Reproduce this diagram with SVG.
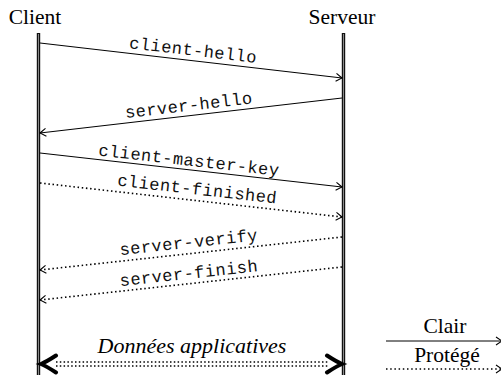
<svg xmlns="http://www.w3.org/2000/svg" width="501" height="375" viewBox="0 0 501 375">
<style>
.serif{font-family:"Liberation Serif","DejaVu Serif",serif;font-size:21.5px;fill:#000}
.ital{font-family:"Liberation Serif","DejaVu Serif",serif;font-size:22px;font-style:italic;fill:#000}
.mono{font-family:"Liberation Mono","DejaVu Sans Mono",monospace;font-size:17px;letter-spacing:0.5px;fill:#111}
.msg{stroke:#000;stroke-width:1;fill:none;marker-end:url(#to)}
.dot{stroke-dasharray:1.5 2.7;stroke-width:1.6}
.life{stroke:#111;stroke-width:3.4;fill:none}
.lifein{stroke:#888;stroke-width:1;fill:none}
</style>
<defs>
<marker id="to" markerUnits="userSpaceOnUse" markerWidth="12" markerHeight="12" viewBox="-8 -6 10 12" refX="0" refY="0" orient="auto">
<path d="M -6 -4 Q -1.5 -1 0 0 Q -1.5 1 -6 4" fill="none" stroke="#000" stroke-width="1.1"/>
</marker>
</defs>
<g id="client">
<text class="serif" x="35" y="24" text-anchor="middle">Client</text>
<line class="life" x1="38.5" y1="33" x2="38.5" y2="375"/>
<line class="lifein" x1="38.5" y1="34" x2="38.5" y2="375"/>
</g>
<g id="serveur">
<text class="serif" x="342" y="24" text-anchor="middle">Serveur</text>
<line class="life" x1="343.5" y1="33" x2="343.5" y2="375"/>
<line class="lifein" x1="343.5" y1="34" x2="343.5" y2="375"/>
</g>
<g id="connectors">
<line class="msg" x1="40" y1="43" x2="342" y2="78"/>
<line class="msg" x1="342" y1="98" x2="40" y2="133"/>
<line class="msg" x1="40" y1="153" x2="342" y2="187"/>
<line class="msg dot" x1="40" y1="183" x2="342" y2="217"/>
<line class="msg dot" x1="342" y1="237" x2="40" y2="270"/>
<line class="msg dot" x1="342" y1="267" x2="40" y2="300"/>
<line x1="56" y1="362" x2="328" y2="362" stroke="#000" stroke-width="1.6" stroke-dasharray="1.5 2.3"/>
<line x1="56" y1="366" x2="328" y2="366" stroke="#000" stroke-width="1.6" stroke-dasharray="1.5 2.3"/>
<path d="M 56 355.5 Q 46 362 41 364 Q 46 366 56 372.5" fill="none" stroke="#000" stroke-width="4" stroke-linecap="round"/>
<path d="M 327 355.5 Q 337 362 342 364 Q 337 366 327 372.5" fill="none" stroke="#000" stroke-width="4" stroke-linecap="round"/>
<line class="msg" x1="386" y1="341" x2="502" y2="341"/>
<line class="msg dot" x1="386" y1="369" x2="502" y2="369"/>
</g>
<g id="labels">
<text class="mono" text-anchor="middle" transform="translate(192,60.5) rotate(6.6)" y="-5">client-hello</text>
<text class="mono" text-anchor="middle" transform="translate(190,115.7) rotate(-6.6)" y="-5">server-hello</text>
<text class="mono" text-anchor="middle" transform="translate(188,169.6) rotate(6.4)" y="-4">client-master-key</text>
<text class="mono" text-anchor="middle" transform="translate(196,200.5) rotate(6.4)" y="-6">client-finished</text>
<text class="mono" text-anchor="middle" transform="translate(190,253.7) rotate(-6.2)" y="-6">server-verify</text>
<text class="mono" text-anchor="middle" transform="translate(190,283.7) rotate(-6.2)" y="-5">server-finish</text>
<text class="ital" x="192" y="353" text-anchor="middle">Données applicatives</text>
<text class="serif" x="445" y="333" text-anchor="middle">Clair</text>
<text class="serif" x="447" y="362" text-anchor="middle">Protégé</text>
</g>
</svg>
